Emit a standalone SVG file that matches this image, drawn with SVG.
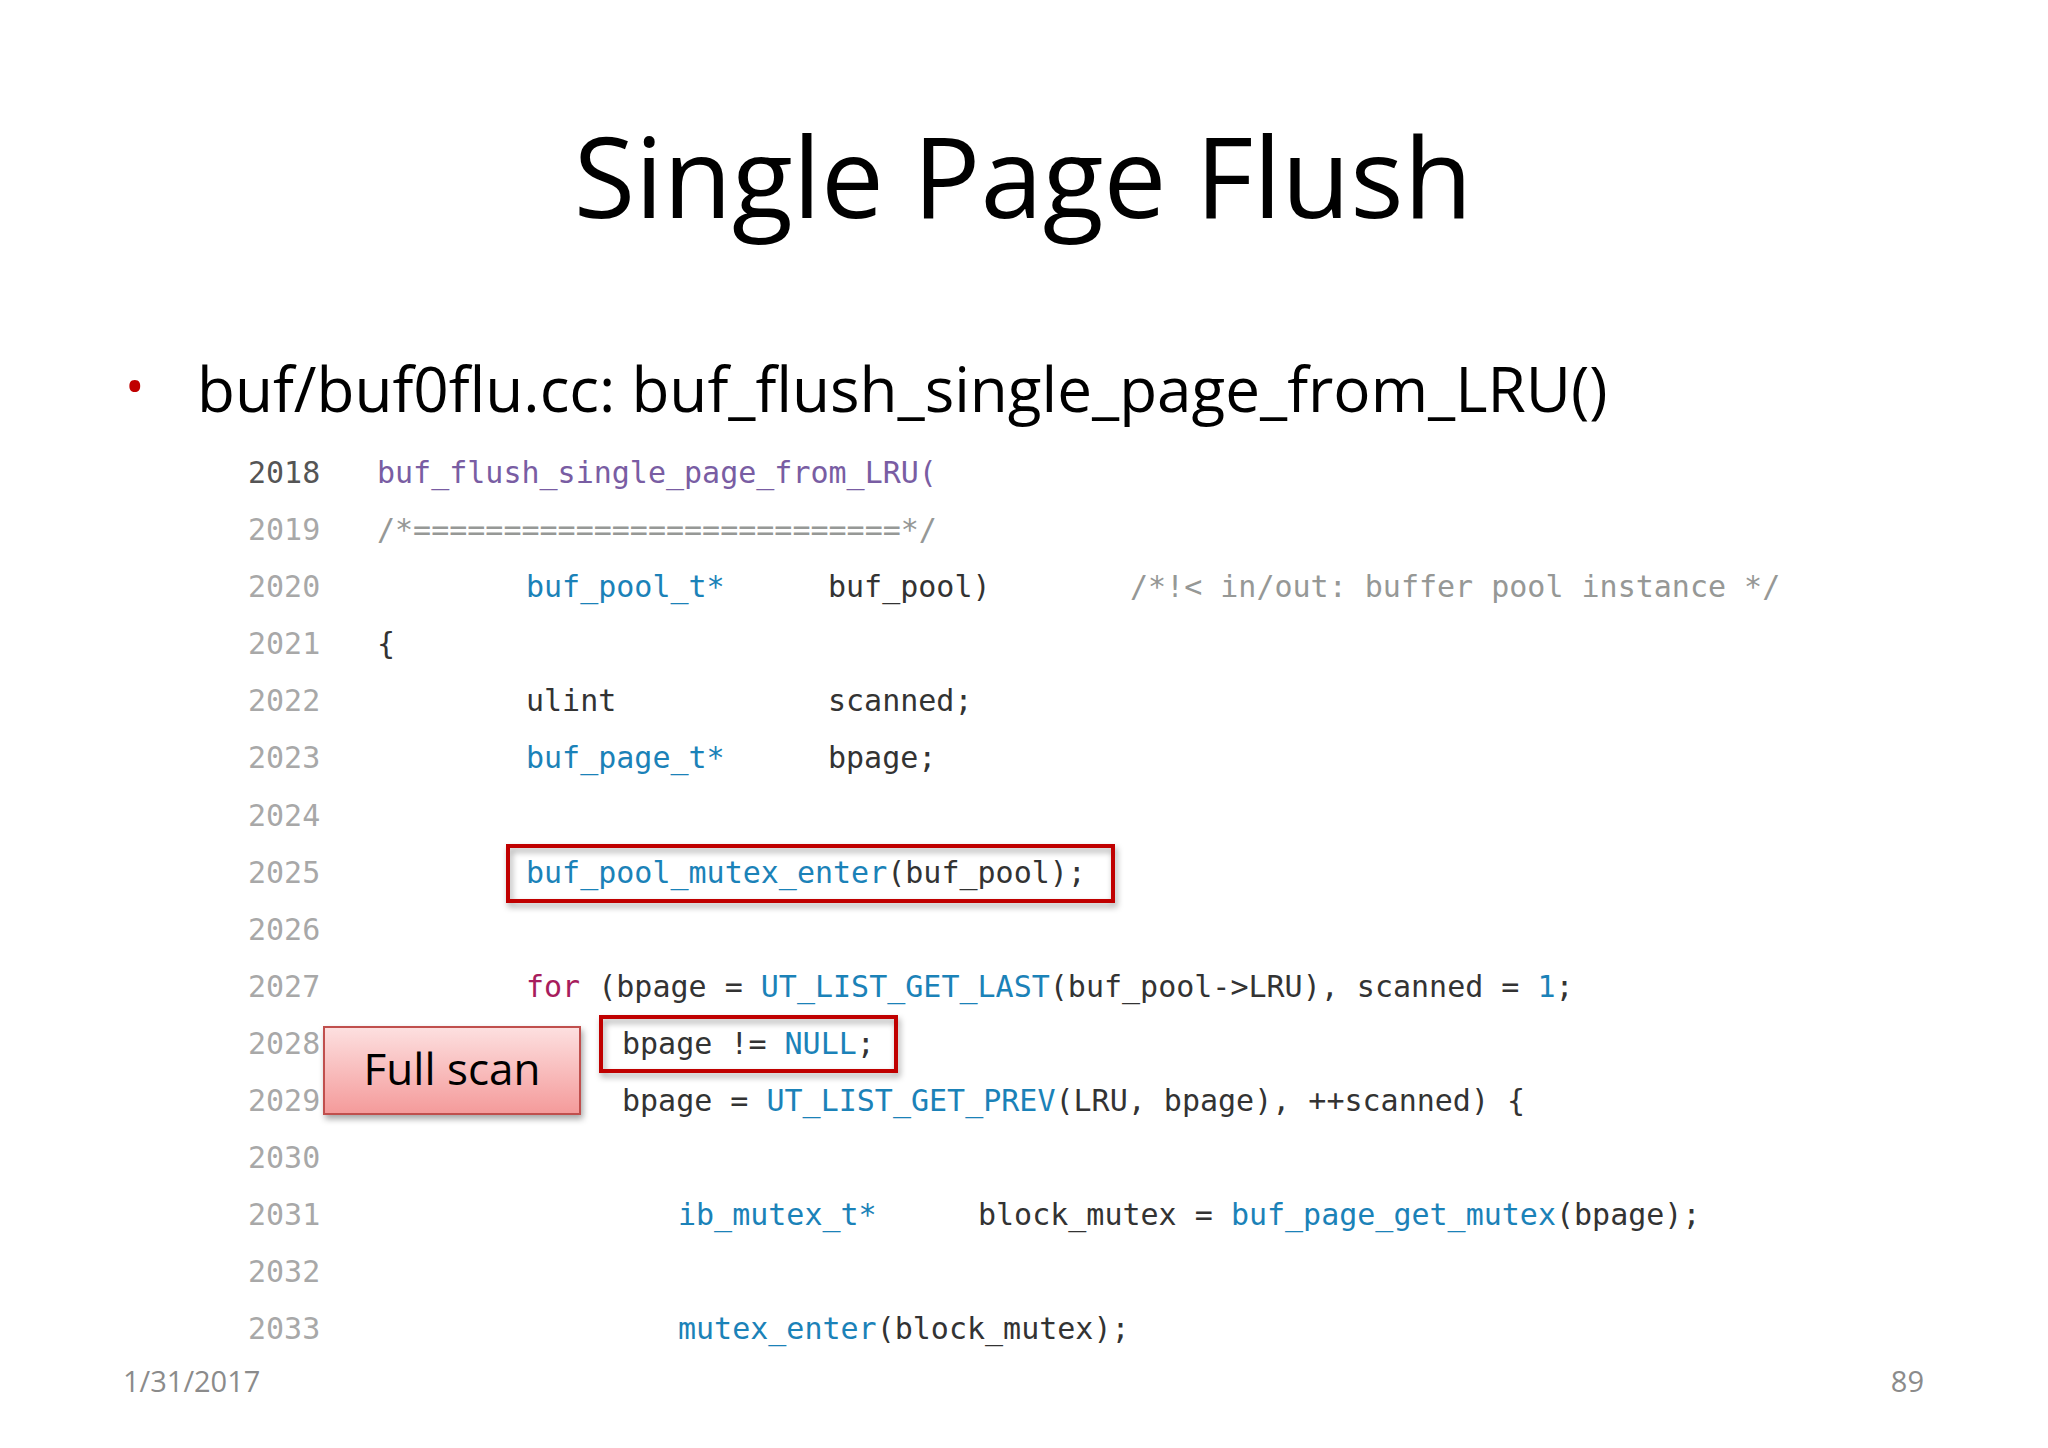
<svg xmlns="http://www.w3.org/2000/svg" width="2048" height="1448" viewBox="0 0 2048 1448">
<style>
.t{font-family:"Open Sans","Liberation Sans",sans-serif}
.c{font-family:"DejaVu Sans Mono","Liberation Mono",monospace;font-size:30px;fill:#333}
.n{fill:#a8a8a8}
.f{fill:#795da3}
.b{fill:#1b82b8}
.k{fill:#a71d5d}
.g{fill:#969896}
.box{fill:none;stroke:#c00000;stroke-width:4}
</style>
<defs>
<linearGradient id="pk" x1="0" y1="0" x2="0" y2="1">
<stop offset="0" stop-color="#fde0e0"/><stop offset="1" stop-color="#f49a9a"/>
</linearGradient>
<filter id="sh" x="-10%" y="-10%" width="130%" height="140%"><feDropShadow dx="2" dy="4" stdDeviation="3" flood-opacity="0.35"/></filter>
</defs>
<rect width="2048" height="1448" fill="#fff"/>
<text class="t" x="1023" y="218" font-size="112" text-anchor="middle" fill="#000">Single Page Flush</text>
<text class="t" x="125" y="405" font-size="52" fill="#c00000">•</text>
<text class="t" x="197" y="412" font-size="62" fill="#000">buf/buf0flu.cc: buf_flush_single_page_from_LRU()</text>
<g id="code" class="c">
<text x="248" y="483" fill="#555">2018</text><text x="377" y="483" class="f">buf_flush_single_page_from_LRU(</text>
<text x="248" y="540" class="n">2019</text><text x="377" y="540" class="g">/*===========================*/</text>
<text x="248" y="597" class="n">2020</text><text x="526" y="597" class="b">buf_pool_t*</text><text x="828" y="597">buf_pool)</text><text x="1130" y="597" class="g">/*!&lt; in/out: buffer pool instance */</text>
<text x="248" y="654" class="n">2021</text><text x="377" y="654">{</text>
<text x="248" y="711" class="n">2022</text><text x="526" y="711">ulint</text><text x="828" y="711">scanned;</text>
<text x="248" y="768" class="n">2023</text><text x="526" y="768" class="b">buf_page_t*</text><text x="828" y="768">bpage;</text>
<text x="248" y="826" class="n">2024</text>
<text x="248" y="883" class="n">2025</text><text x="526" y="883"><tspan class="b">buf_pool_mutex_enter</tspan>(buf_pool);</text>
<text x="248" y="940" class="n">2026</text>
<text x="248" y="997" class="n">2027</text><text x="526" y="997"><tspan class="k">for</tspan> (bpage = <tspan class="b">UT_LIST_GET_LAST</tspan>(buf_pool-&gt;LRU), scanned = <tspan class="b">1</tspan>;</text>
<text x="248" y="1054" class="n">2028</text><text x="622" y="1054">bpage != <tspan class="b">NULL</tspan>;</text>
<text x="248" y="1111" class="n">2029</text><text x="622" y="1111">bpage = <tspan class="b">UT_LIST_GET_PREV</tspan>(LRU, bpage), ++scanned) {</text>
<text x="248" y="1168" class="n">2030</text>
<text x="248" y="1225" class="n">2031</text><text x="678" y="1225" class="b">ib_mutex_t*</text><text x="978" y="1225">block_mutex = <tspan class="b">buf_page_get_mutex</tspan>(bpage);</text>
<text x="248" y="1282" class="n">2032</text>
<text x="248" y="1339" class="n">2033</text><text x="678" y="1339"><tspan class="b">mutex_enter</tspan>(block_mutex);</text>
</g>
<g id="box1"><rect class="box" x="508" y="846" width="605" height="55" filter="url(#sh)"/></g>
<g id="box2"><rect class="box" x="601" y="1017" width="295" height="54" filter="url(#sh)"/></g>
<g id="fullscan">
<rect x="324" y="1027" width="256" height="87" fill="url(#pk)" stroke="#c0504d" stroke-width="2" filter="url(#sh)"/>
<text class="t" x="452" y="1085" font-size="44" text-anchor="middle" fill="#000">Full scan</text>
</g>
<text class="t" x="123" y="1392" font-size="29" fill="#8b8b8b">1/31/2017</text>
<text class="t" x="1924" y="1392" font-size="29" fill="#8b8b8b" text-anchor="end">89</text>
</svg>
